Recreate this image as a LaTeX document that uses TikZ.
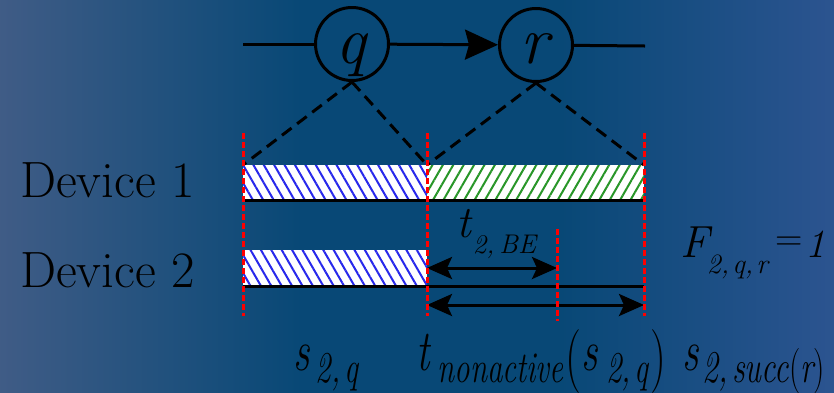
\documentclass[tikz,border=0pt]{standalone}
\usepackage{graphicx}
\usetikzlibrary{arrows.meta,patterns.meta}
\definecolor{bgL}{RGB}{64,92,134}
\definecolor{bgM}{RGB}{8,72,118}
\definecolor{bgR}{RGB}{44,84,144}
\definecolor{hatchblue}{RGB}{40,40,235}
\definecolor{hatchgreen}{RGB}{40,150,40}
\newcommand\fz[2]{{\fontsize{#1}{#1}\selectfont\itshape #2}}
\newcommand\fu[2]{{\fontsize{#1}{#1}\selectfont\upshape #2}}
\begin{document}
\begin{tikzpicture}[x=1pt,y=-1pt,
  circ/.style={circle,draw=black,line width=3pt,minimum size=73pt,inner sep=0pt},
  wire/.style={line width=3pt,black},
  dashlink/.style={line width=3pt,black,dash pattern=on 12pt off 7pt},
  reddash/.style={line width=3pt,red,dash pattern=on 6pt off 3pt},
  dbl/.style={line width=3pt,{Stealth[length=25pt,width=22pt,inset=5pt]}-{Stealth[length=25pt,width=22pt,inset=5pt]}},
  floorline/.style={line width=3pt,black},
  bluebar/.style={fill=white,postaction={pattern={Lines[angle=-60,distance=9pt,line width=2pt]},pattern color=hatchblue}},
  greenbar/.style={fill=white,postaction={pattern={Lines[angle=60,distance=9pt,line width=2pt]},pattern color=hatchgreen}},
  lbl/.style={anchor=base west,inner sep=0pt,text=black},
  dev/.style={anchor=base west,inner sep=0pt,text=black,font=\fontsize{51}{51}\selectfont}
]
\useasboundingbox (0,0) rectangle (834,392);
\shade[left color=bgL,right color=bgM] (-2,-2) rectangle (301,395);
\fill[bgM] (299,-2) rectangle (561,395);
\shade[left color=bgM,right color=bgR] (560,-2) rectangle (836,395);

% task nodes
\node[circ] (q) at (352,44) {};
\node[circ] (r) at (536,45) {};
\node[anchor=base,inner sep=0pt] (qt) at (351,63) {\fz{68}{q}};
\node[anchor=base,inner sep=0pt] (rt) at (535,63) {\fz{68}{r}};
\coordinate (inL) at (243,44);
\coordinate (outR) at (645,46);
\draw[wire] (inL) -- (q);
\draw[wire,-{Stealth[length=33pt,width=30pt,inset=4pt]}] (q) -- (r);
\draw[wire] (r) -- (outR);

% bars
\coordinate (A) at (243,165);
\coordinate (B) at (427,165);
\coordinate (C) at (644,165);
\fill[bluebar] (243,165) rectangle (427,200);
\fill[greenbar] (427,165) rectangle (644,200);
\fill[bluebar] (243,250) rectangle (427,286);
\coordinate (f1a) at (243,200);
\coordinate (f1b) at (644,200);
\coordinate (f2a) at (243,286);
\coordinate (f2b) at (644,286);
\draw[floorline] (f1a) -- (f1b);
\draw[floorline] (f2a) -- (f2b);

% dashed mapping
\draw[dashlink] (q.south) -- (A);
\draw[dashlink] (q.south) -- (B);
\draw[dashlink] (r.south) -- (B);
\draw[dashlink] (r.south) -- (C);

% double arrows
\coordinate (a1s) at (427,268);
\coordinate (a1e) at (557,268);
\coordinate (a2s) at (427,305);
\coordinate (a2e) at (644,305);
\draw[dbl] (a1s) -- (a1e);
\draw[dbl] (a2s) -- (a2e);

% red markers
\coordinate (v1t) at (243,133); \coordinate (v1b) at (243,316);
\coordinate (v2t) at (427,133); \coordinate (v2b) at (427,316);
\coordinate (v3t) at (644,133); \coordinate (v3b) at (644,316);
\coordinate (v4t) at (557,229); \coordinate (v4b) at (557,321);
\draw[reddash] (v1t) -- (v1b);
\draw[reddash] (v2t) -- (v2b);
\draw[reddash] (v3t) -- (v3b);
\draw[reddash] (v4t) -- (v4b);

% labels
\node[dev] (d1) at (20,197) {Device 1};
\node[dev] (d2) at (20,287) {Device 2};
\node[lbl] (tbe) at (456,237) {\fz{45}{t}\hspace{2pt}\raisebox{-16pt}{\fz{27}{2,\hspace{5pt}BE}}};
\node[lbl] (F) at (680,257) {\fz{45}{F}\hspace{-2pt}\raisebox{-16pt}{\fz{28}{2,\hspace{3pt}q,\hspace{3pt}r}}\hspace{8pt}\raisebox{7pt}{\fu{38}{=}}\hspace{2pt}\fz{40}{1}};
\node[lbl] (s2q) at (293,370) {\scalebox{1}[1.42]{\fz{41}{s}\hspace{6pt}\raisebox{-9pt}{\fz{31}{2,\hspace{4pt}q}}}};
\node[lbl] (tna) at (416,370) {\scalebox{1}[1.42]{\fz{41}{t}\hspace{8pt}\raisebox{-9pt}{\fz{31}{nonactive}}\hspace{2pt}\raisebox{-5pt}{\fu{45}{(}}\fz{41}{s}\hspace{8pt}\raisebox{-9pt}{\fz{31}{2,\hspace{4pt}q}}\hspace{2pt}\raisebox{-5pt}{\fu{45}{)}}}};
\node[lbl] (ssu) at (682,370) {\scalebox{1}[1.42]{\fz{41}{s}\hspace{4pt}\raisebox{-9pt}{\fz{32}{2,\hspace{4pt}succ\upshape(\itshape r\upshape)}}}};
\end{tikzpicture}
\end{document}
